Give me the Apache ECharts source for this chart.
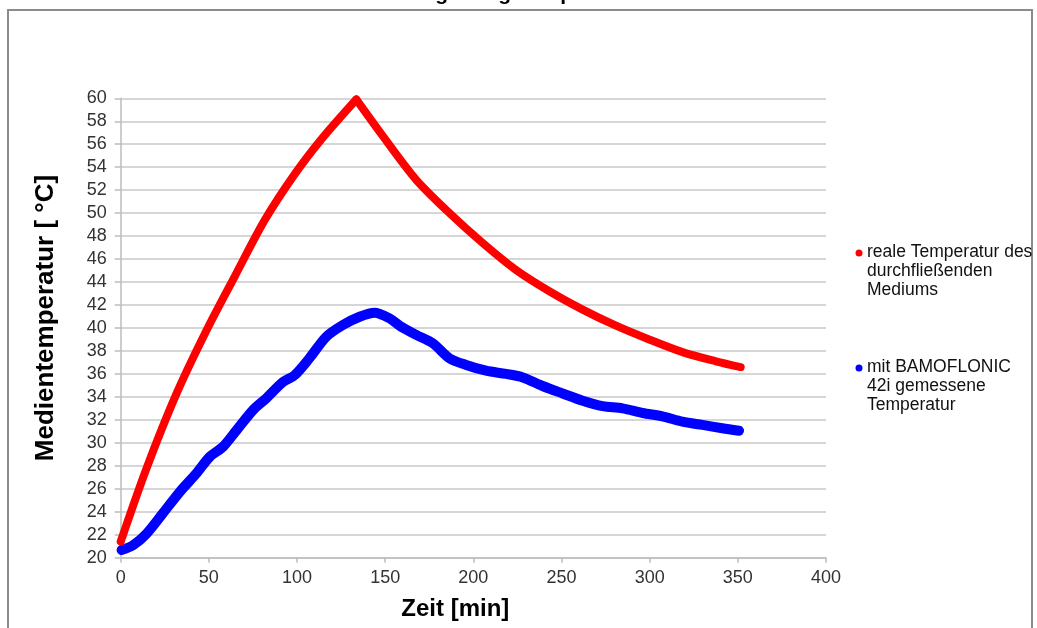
<!DOCTYPE html>
<html>
<head>
<meta charset="utf-8">
<script src="https://cdn.jsdelivr.net/npm/echarts@6/dist/echarts.min.js"></script>
<style>
  html, body { margin: 0; padding: 0; background: #ffffff; }
  #chart { width: 1037px; height: 628px; }
</style>
</head>
<body>
<div id="chart"></div>
<script>
// ---- data ----
const chartTitle = 'Umgebungstemperatur';
const xAxisTitle = 'Zeit [min]';
const yAxisTitle = 'Medientemperatur [ °C]';
const seriesNames = ['reale Temperatur des\ndurchfließenden\nMediums', 'mit BAMOFLONIC\n42i gemessene\nTemperatur'];

const redTime = [0, 14.7, 31.7, 48.7, 64.7, 81.7, 98.7, 114.7, 133.6, 148.7, 167.6, 186.5, 205.3, 224.2, 243.1, 262, 280.9, 299.7, 318.6, 337.5, 351.6];
const redTemp = [21.4, 27.8, 34.3, 39.8, 44.5, 49.4, 53.4, 56.6, 59.9, 56.7, 52.9, 50.0, 47.4, 45.05, 43.2, 41.6, 40.2, 39.0, 37.9, 37.1, 36.6];
const redPeakIndex = 8;

const blueTime = [0.5, 7.1, 14.7, 24.1, 33.6, 43, 50.6, 58.1, 65.7, 75.1, 82.7, 92.1, 98.7, 107.2, 116.6, 126, 135.5, 144, 152.5, 158.2, 167.6, 177, 186.5, 195.9, 207.2, 218.6, 228, 239.3, 250.6, 262, 273.3, 284.6, 296, 307.3, 318.6, 329.9, 341.2, 350.7];
const blueTemp = [20.67, 21.1, 22.1, 23.9, 25.75, 27.35, 28.8, 29.67, 31.1, 32.86, 33.9, 35.3, 35.9, 37.4, 39.24, 40.26, 40.98, 41.33, 40.84, 40.2, 39.4, 38.67, 37.36, 36.78, 36.28, 36.0, 35.7, 34.95, 34.3, 33.67, 33.2, 33.0, 32.6, 32.3, 31.85, 31.56, 31.27, 31.06];

const xMin = 0, xMax = 400, xStep = 50;
const yMin = 20, yMax = 60, yStep = 2;
const colors = ['#ff0000', '#0000ff'];

function pairs(xs, ys) { return xs.map((x, i) => [x, ys[i]]); }

const chart = echarts.init(document.getElementById('chart'), null, { renderer: 'canvas' });
const FONT = 'Liberation Sans, Arial, sans-serif';

const redPairs = pairs(redTime, redTemp);
const redLine = { color: colors[0], width: 8, cap: 'round', join: 'round' };

const option = {
  backgroundColor: '#ffffff',
  animation: false,
  grid: { left: 120.7, top: 98.3, width: 705.3, height: 459.4, containLabel: false },
  xAxis: {
    type: 'value', min: xMin, max: xMax, interval: xStep,
    name: xAxisTitle, nameLocation: 'middle', nameGap: 40,
    nameTextStyle: { fontFamily: FONT, fontSize: 24, fontWeight: 'bold', color: '#000', padding: [0, 36, 0, 0] },
    axisLine: { show: true, lineStyle: { color: '#bdbdbd', width: 1.5 } },
    axisTick: { show: true, length: 5, lineStyle: { color: '#bdbdbd', width: 1.5 } },
    axisLabel: { fontFamily: FONT, fontSize: 18, color: '#333', margin: 11 },
    splitLine: { show: false }
  },
  yAxis: {
    type: 'value', min: yMin, max: yMax, interval: yStep,
    name: yAxisTitle, nameLocation: 'middle', nameGap: 62, nameRotate: 90,
    nameTextStyle: { fontFamily: FONT, fontSize: 26, fontWeight: 'bold', color: '#000', padding: [0, 0, 0, 20] },
    axisLine: { show: true, lineStyle: { color: '#bdbdbd', width: 1.5 } },
    axisTick: { show: true, length: 6, lineStyle: { color: '#bdbdbd', width: 1.5 } },
    axisLabel: { fontFamily: FONT, fontSize: 18, color: '#333', margin: 14 },
    splitLine: { show: true, lineStyle: { color: '#c8c8c8', width: 1.5 } }
  },
  series: [
    {
      name: 'red-rise', type: 'line', data: redPairs.slice(0, redPeakIndex + 1),
      showSymbol: false, smooth: 0.3, z: 3, lineStyle: redLine, itemStyle: { color: colors[0] }
    },
    {
      name: 'red-fall', type: 'line', data: redPairs.slice(redPeakIndex),
      showSymbol: false, smooth: 0.3, z: 3, lineStyle: redLine, itemStyle: { color: colors[0] }
    },
    {
      name: 'blue', type: 'line', data: pairs(blueTime, blueTemp),
      showSymbol: false, smooth: 0.3, z: 2,
      lineStyle: { color: colors[1], width: 10, cap: 'round', join: 'round' },
      itemStyle: { color: colors[1] }
    }
  ],
  graphic: [
    {
      type: 'rect', silent: true, z: 0,
      shape: { x: 8, y: 10, width: 1024, height: 640 },
      style: { fill: 'none', stroke: '#8c8c8c', lineWidth: 2 }
    },
    {
      type: 'text', silent: true,
      style: { text: chartTitle, x: 517, y: 5, align: 'center', verticalAlign: 'bottom',
               font: 'bold 21px ' + FONT, fill: '#000' }
    },
    {
      type: 'circle', silent: true,
      shape: { cx: 859, cy: 253, r: 3.5 }, style: { fill: colors[0] }
    },
    {
      type: 'text', silent: true,
      style: { text: seriesNames[0], x: 867, y: 243, verticalAlign: 'top', lineHeight: 19,
               font: '17.5px ' + FONT, fill: '#111' }
    },
    {
      type: 'circle', silent: true,
      shape: { cx: 859, cy: 368, r: 3.5 }, style: { fill: colors[1] }
    },
    {
      type: 'text', silent: true,
      style: { text: seriesNames[1], x: 867, y: 358, verticalAlign: 'top', lineHeight: 19,
               font: '17.5px ' + FONT, fill: '#111' }
    }
  ]
};
chart.setOption(option);
</script>
</body>
</html>
